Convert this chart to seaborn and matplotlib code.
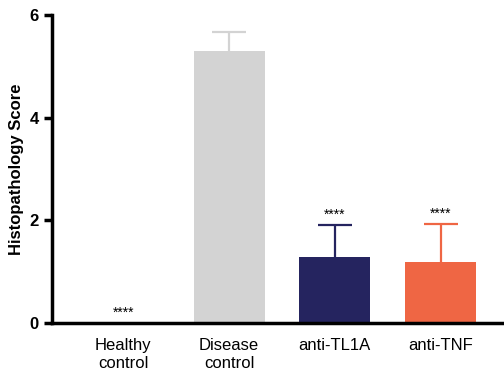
import pandas as pd
import matplotlib
matplotlib.use("Agg")
import matplotlib.pyplot as plt
import seaborn as sns

# Data
groups = ["Healthy\ncontrol", "Disease\ncontrol", "anti-TL1A", "anti-TNF"]
scores = [0.0, 5.30, 1.28, 1.18]
sem = [0.0, 0.36, 0.62, 0.74]
stars = ["****", "", "****", "****"]
colors = ["#d3d3d3", "#d3d3d3", "#25245f", "#ef6644"]

df = pd.DataFrame({"Group": groups, "Score": scores})

sns.set_style("ticks", {"text.color": "black", "axes.edgecolor": "black",
                        "xtick.color": "black", "ytick.color": "black",
                        "axes.labelcolor": "black"})
plt.rcParams["font.family"] = ["Liberation Sans", "DejaVu Sans"]

fig = plt.figure(figsize=(5.04, 3.74), dpi=100)
ax = fig.add_axes([52 / 504, 1 - 323 / 374, 1 - 52 / 504, (323 - 15) / 374])

sns.barplot(data=df, x="Group", y="Score", hue="Group", palette=colors,
            legend=False, width=0.67, errorbar=None, ax=ax, saturation=1,
            edgecolor="none")

# upper-only error bars
for i, (v, e) in enumerate(zip(scores, sem)):
    if e > 0:
        _, caps, _ = ax.errorbar(i, v, yerr=[[0], [e]], fmt="none", ecolor=colors[i],
                                 elinewidth=1.6, capsize=12.5, capthick=1.6, zorder=1)
        caps[0].set_visible(False)
    if stars[i]:
        ax.text(i, v + e + 0.07, stars[i], ha="center", va="bottom", fontsize=10)

ax.set_xlim(-0.675, 3.6)
ax.set_ylim(0, 6)
ax.set_yticks([0, 2, 4, 6])
ax.set_xlabel("")
ax.set_ylabel("Histopathology Score", fontsize=12, fontweight="bold")
ax.tick_params(axis="y", labelsize=12, width=2.5, length=6)
ax.tick_params(axis="x", labelsize=12, length=0, pad=11)
for lab in ax.get_yticklabels():
    lab.set_fontweight("bold")
for side in ["top", "right"]:
    ax.spines[side].set_visible(False)
for side in ["left", "bottom"]:
    ax.spines[side].set_linewidth(2.5)

fig.savefig("out.png", dpi=100)
